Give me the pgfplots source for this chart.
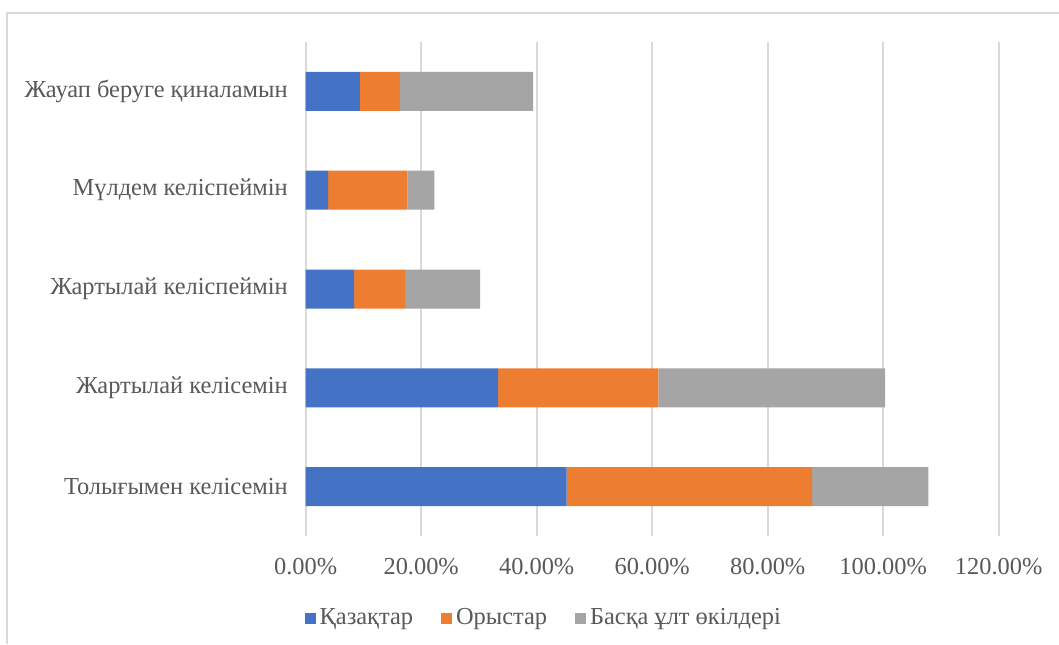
\documentclass[border=0pt]{standalone}
\usepackage{fontspec}
\setmainfont{Liberation Serif}
\usepackage{pgfplots}
\pgfplotsset{compat=1.18}
\definecolor{kzblue}{HTML}{4472C4}
\definecolor{ruorange}{HTML}{ED7D31}
\definecolor{othergray}{HTML}{A5A5A5}
\definecolor{gridgray}{HTML}{D9D9D9}
\definecolor{textgray}{HTML}{595959}

\pgfplotsset{
  legsq/.style={legend image code/.code={\fill[##1] (0pt,-2.75pt) rectangle (5.5pt,2.75pt);}},
}

\begin{document}
\begin{tikzpicture}[x=1pt,y=1pt]
\useasboundingbox (0,0) rectangle (529.5,322);
\fill[white] (0,0) rectangle (529.5,322);
\draw[gridgray, line width=1pt] (3.25,0) -- (3.25,315.5) -- (529.5,315.5);
\begin{axis}[
  at={(152.85pt,54pt)}, anchor=south west,
  scale only axis, width=346.5pt, height=247pt,
  xbar stacked, bar width=19.5pt,
  xmin=0, xmax=120, ymin=-0.5, ymax=4.5,
  xtick={0,20,40,60,80,100,120},
  xticklabels={0.00\%,20.00\%,40.00\%,60.00\%,80.00\%,100.00\%,120.00\%},
  ytick={0,1,2,3,4},
  yticklabels={Толығымен келісемін,Жартылай келісемін,Жартылай келіспеймін,Мүлдем келіспеймін,Жауап беруге қиналамын},
  xmajorgrids, grid style={gridgray, line width=1pt},
  axis line style={draw=none}, major tick style={draw=none},
  ticklabel style={font=\fontsize{12.2}{14}\selectfont, text=textgray},
  xticklabel style={yshift=-7.5pt},
  yticklabel style={anchor=east, xshift=-5.5pt},
  legend columns=3,
  legend style={draw=none, fill=none, at={(axis description cs:0.345,-0.166)}, anchor=center,
    font=\fontsize{12.2}{14}\selectfont, text=textgray,
    /tikz/every even column/.append style={column sep=12pt}},
]
\addplot[legsq, fill=kzblue, draw=none] coordinates {(45.2,0) (33.3,1) (8.4,2) (3.9,3) (9.4,4)};
\addplot[legsq, fill=ruorange, draw=none] coordinates {(42.5,0) (27.75,1) (8.8,2) (13.7,3) (6.9,4)};
\addplot[legsq, fill=othergray, draw=none] coordinates {(20.1,0) (39.3,1) (13.0,2) (4.7,3) (23.1,4)};
\legend{Қазақтар,Орыстар,Басқа ұлт өкілдері}
\end{axis}
\end{tikzpicture}
\end{document}
